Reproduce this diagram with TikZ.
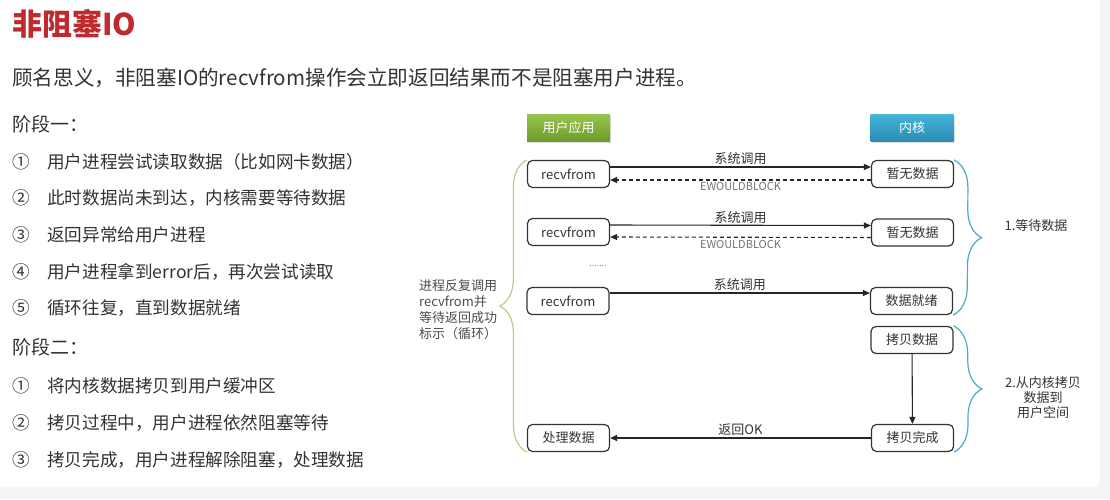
\documentclass[tikz,border=0pt]{standalone}
\usepackage{fontspec}
\setmainfont{Noto Sans CJK SC}
\usepackage{xcolor}
\usetikzlibrary{arrows.meta,positioning,calc,decorations.pathreplacing,shadows}
\definecolor{nbred}{HTML}{BE2A2E}
\definecolor{nbtext}{HTML}{333333}
\definecolor{nbgray}{HTML}{F4F5F6}
\definecolor{nbgreenA}{HTML}{98C54C}
\definecolor{nbgreenB}{HTML}{6E9C2B}
\definecolor{nbblueA}{HTML}{45B4D6}
\definecolor{nbblueB}{HTML}{2A8DB3}
\definecolor{nbolive}{HTML}{BFC98A}
\definecolor{nbcyan}{HTML}{4BACC6}
\tikzset{
  hdrBox/.style={minimum width=83pt, minimum height=27pt, inner sep=0pt, text=white,
    font=\fontsize{13}{15}\selectfont, drop shadow={opacity=0.25, shadow xshift=1pt, shadow yshift=-1.5pt}},
  stageBox/.style={draw=nbtext, line width=1.2pt, rounded corners=5pt, fill=white, text=nbtext,
    minimum width=82pt, minimum height=27pt, inner sep=0pt, font=\fontsize{13}{15}\selectfont},
  callArrow/.style={-{Triangle[length=7pt,width=6pt]}, line width=1.1pt, draw=black!85},
  backArrow/.style={callArrow, dash pattern=on 4pt off 3pt},
  callLabel/.style={font=\fontsize{13}{15}\selectfont, text=nbtext, inner sep=1.5pt},
  errLabel/.style={font=\fontsize{11}{12}\selectfont, text=black!55, inner sep=2pt},
  sideBrace/.style={decorate, decoration={brace, amplitude=27pt, aspect=0.5}, line width=1.2pt},
  listText/.style={anchor=west, inner sep=0pt, text=nbtext, font=\fontsize{17.6}{20}\selectfont}
}
\begin{document}
\begin{tikzpicture}[x=1pt,y=-1pt]
  \useasboundingbox (0,0) rectangle (1110,499);
  % page background
  \fill[nbgray] (0,0) rectangle (1110,499);
  \fill[white, rounded corners=8pt] (-20,-20) rectangle (1100,487);

  % title and text on the left
  \node[anchor=west, inner sep=0pt, text=nbred, font=\fontsize{30}{33}\selectfont\bfseries] (title) at (12,24) {非阻塞IO};
  \node[anchor=west, inner sep=0pt, text=nbtext, font=\fontsize{20.6}{24}\selectfont] (intro) at (12,78)
    {顾名思义，非阻塞IO的recvfrom操作会立即返回结果而不是阻塞用户进程。};
  \node[listText, font=\fontsize{19}{22}\selectfont] (stageOne) at (12,124) {阶段一：};
  \foreach \num/\txt/\y [count=\i] in {①/用户进程尝试读取数据（比如网卡数据）/162, ②/此时数据尚未到达，内核需要等待数据/198,
      ③/返回异常给用户进程/235, ④/用户进程拿到error后，再次尝试读取/272, ⑤/循环往复，直到数据就绪/308} {
    \node[listText] (numA\i) at (12,\y) {\num};
    \node[listText] (itemA\i) at (47,\y) {\txt};
  }
  \node[listText, font=\fontsize{19}{22}\selectfont] (stageTwo) at (12,347) {阶段二：};
  \foreach \num/\txt/\y [count=\i] in {①/将内核数据拷贝到用户缓冲区/386, ②/拷贝过程中，用户进程依然阻塞等待/423,
      ③/拷贝完成，用户进程解除阻塞，处理数据/460} {
    \node[listText] (numB\i) at (12,\y) {\num};
    \node[listText] (itemB\i) at (47,\y) {\txt};
  }

  % diagram headers
  \node[hdrBox, top color=nbgreenA, bottom color=nbgreenB] (userHdr) at (568.5,127.5) {用户应用};
  \node[hdrBox, top color=nbblueA, bottom color=nbblueB] (kernHdr) at (912,127.5) {内核};

  % user side
  \node[stageBox] (callA) at (568.5,174) {recvfrom};
  \node[stageBox] (callB) at (568.5,232) {recvfrom};
  \node[stageBox] (callC) at (568,301) {recvfrom};
  \node[stageBox] (handle) at (568.5,438) {处理数据};
  \node[text=black!50, font=\fontsize{9}{10}\selectfont, inner sep=0pt] (dots) at (598,266) {.......};

  % kernel side
  \node[stageBox] (noDataA) at (912.5,174) {暂无数据};
  \node[stageBox] (noDataB) at (912.5,232.5) {暂无数据};
  \node[stageBox] (ready) at (911.5,301) {数据就绪};
  \node[stageBox] (copyData) at (912,340) {拷贝数据};
  \node[stageBox] (copyDone) at (912.5,438) {拷贝完成};

  % calls and replies
  \draw[callArrow] ([yshift=7pt]callA.east) -- node[callLabel, above] {系统调用} ([yshift=7pt]noDataA.west);
  \draw[backArrow] ([yshift=-6pt]noDataA.west) -- node[errLabel, below, solid] {EWOULDBLOCK} ([yshift=-6pt]callA.east);
  \draw[callArrow] ([yshift=7pt]callB.east) -- node[callLabel, above] {系统调用} ([yshift=7pt]noDataB.west);
  \draw[backArrow] ([yshift=-5pt]noDataB.west) -- node[errLabel, below, solid] {EWOULDBLOCK} ([yshift=-5pt]callB.east);
  \draw[callArrow] ([yshift=8pt]callC.east) -- node[callLabel, above] {系统调用} ([yshift=8pt]ready.west);
  \draw[callArrow] (copyData) -- (copyDone);
  \draw[callArrow] (copyDone) -- node[callLabel, above] {返回OK} (handle);

  % braces
  \draw[sideBrace, draw=nbolive] (handle.south west) -- (callA.north west);
  \node[anchor=west, align=left, inner sep=0pt, text=black!70, font=\fontsize{13}{16}\selectfont] (loopNote) at (419,310)
    {进程反复调用\\recvfrom并\\等待返回成功\\标示（循环）};
  \draw[sideBrace, draw=nbcyan, decoration={amplitude=28pt}] (noDataA.north east) -- (ready.south east);
  \node[text=nbtext, font=\fontsize{13}{16}\selectfont, inner sep=0pt] (waitNote) at (1036,226) {1.等待数据};
  \draw[sideBrace, draw=nbcyan, decoration={amplitude=28pt}] (copyData.north east) -- (copyDone.south east);
  \node[align=center, text=nbtext, font=\fontsize{13}{15}\selectfont, inner sep=0pt] (copyNote) at (1043,398)
    {2.从内核拷贝\\数据到\\用户空间};
\end{tikzpicture}
\end{document}
